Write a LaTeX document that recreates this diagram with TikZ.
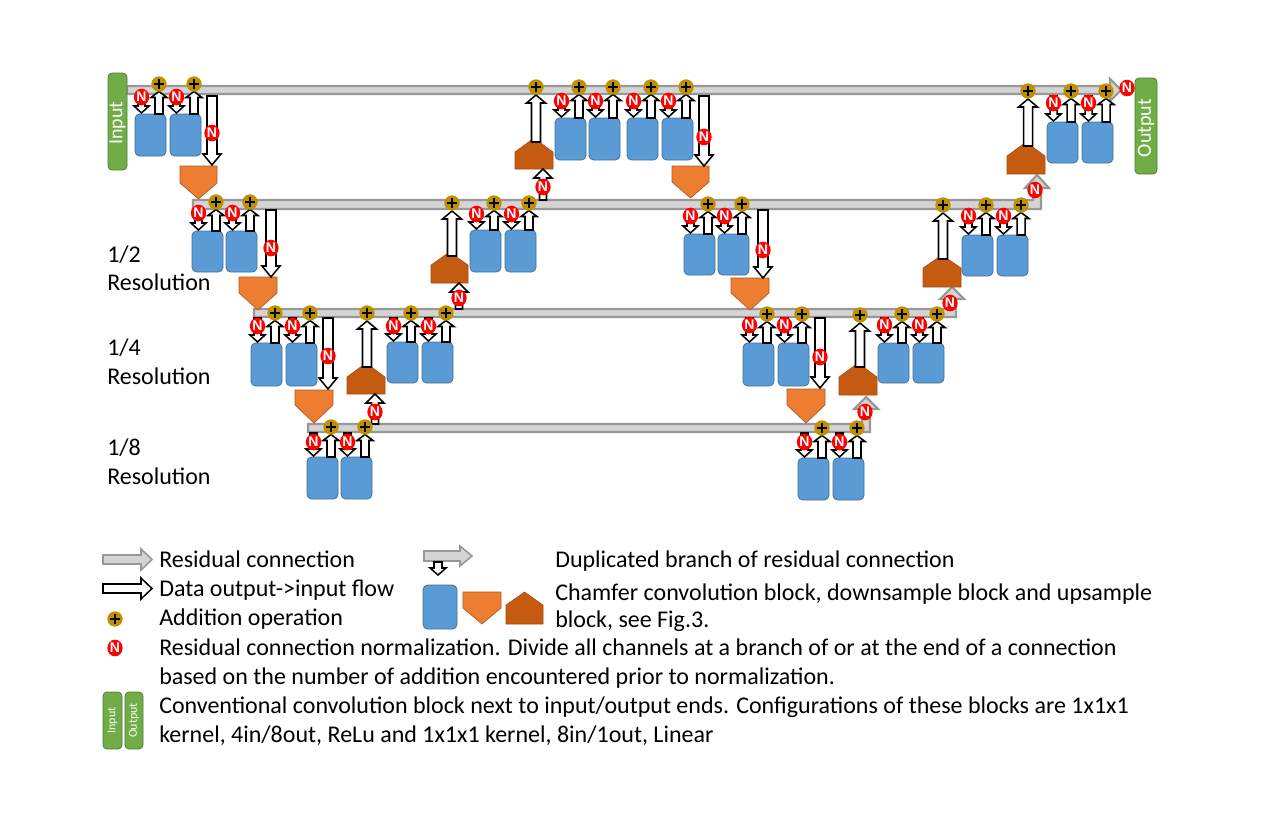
\documentclass[tikz,border=0pt]{standalone}
\usepackage{fontspec}
\setmainfont{Carlito}
\newfontfamily\nfont{Liberation Sans}
\usetikzlibrary{shapes.geometric}
\definecolor{cblue}{HTML}{5B9BD5}
\definecolor{cblueb}{HTML}{41719C}
\definecolor{corange}{HTML}{ED7D31}
\definecolor{corangeb}{HTML}{AE5A21}
\definecolor{cup}{HTML}{C55A11}
\definecolor{cgreen}{HTML}{70AD47}
\definecolor{cgreenb}{HTML}{507E32}
\definecolor{cgold}{HTML}{BF9000}
\definecolor{cbarfill}{HTML}{D4D4D4}
\definecolor{cbardraw}{HTML}{989898}
\tikzset{
 chblock/.style={fill=cblue,draw=cblueb,line width=0.6pt,rounded corners=3.5pt},
 downblk/.style={fill=corange,draw=corangeb,line width=0.5pt,line join=miter},
 upblk/.style={fill=cup,draw=cup!85!black,line width=0.4pt,line join=miter},
 flowarrow/.style={fill=white,draw=black,line width=1.15pt,line join=miter},
 resbar/.style={fill=cbarfill,draw=cbardraw,line width=1.6pt,line join=miter},
 convblk/.style={fill=cgreen,draw=cgreenb,line width=0.6pt,rounded corners=3pt},
 addop/.style={circle,fill=cgold,inner sep=0pt,minimum size=11.5pt,
   path picture={\draw[line width=1.4pt,black]
     ([xshift=-3.6pt]path picture bounding box.center) -- ([xshift=3.6pt]path picture bounding box.center)
     ([yshift=-3.6pt]path picture bounding box.center) -- ([yshift=3.6pt]path picture bounding box.center);}},
 normop/.style={ellipse,fill=red,inner sep=0pt,minimum width=11.5pt,minimum height=12.5pt,text=white,font=\nfont\fontsize{10.5}{10.5}\selectfont\bfseries},
 lbl/.style={anchor=base west,inner sep=0pt,font=\fontsize{18}{21.6}\selectfont},
}
% vertical block arrows: x, tail y, tip y, shaft half, head half, head length
\newcommand\uparr[6]{\draw[flowarrow] ({#1-#4},#2) -- ({#1-#4},{#3+#6}) -- ({#1-#5},{#3+#6}) -- (#1,#3) -- ({#1+#5},{#3+#6}) -- ({#1+#4},{#3+#6}) -- ({#1+#4},#2) -- cycle;}
\newcommand\dnarr[6]{\draw[flowarrow] ({#1-#4},#2) -- ({#1-#4},{#3-#6}) -- ({#1-#5},{#3-#6}) -- (#1,#3) -- ({#1+#5},{#3-#6}) -- ({#1+#4},{#3-#6}) -- ({#1+#4},#2) -- cycle;}
% chamfer block with its N-down arrow and up arrow to addition: name, xleft, ytop, ybot, barbottom, plus y, N y
\newcommand\cb[7]{%
 \draw[chblock] (#2,#3) rectangle ({#2+31},#4);
 \dnarr{#2+6.5}{#5}{#3-1}{3.5}{7.5}{7}
 \uparr{#2+24}{#3}{#6+7.5}{4}{8}{6}
 \node[addop] (#1p) at ({#2+24},#6) {};
 \node[normop] (#1n) at ({#2+6.5},#7) {N};}
% downsample: x1, x2, top, shoulder, tip
\newcommand\dsb[5]{\draw[downblk] (#1,#3) -- (#2,#3) -- (#2,#4) -- ({(#1+#2)/2},#5) -- (#1,#4) -- cycle;}
% upsample: x1, x2, peak, shoulder, bottom
\newcommand\usb[5]{\draw[upblk] (#1,#5) -- (#1,#4) -- ({(#1+#2)/2},#3) -- (#2,#4) -- (#2,#5) -- cycle;}
\begin{document}
\begin{tikzpicture}[x=0.75pt,y=-0.75pt]
\useasboundingbox (0,0) rectangle (1280,832);
% residual bars
\draw[resbar] (127,86) -- (1110,86) -- (1110,79) -- (1121,90) -- (1110,101) -- (1110,94) -- (127,94) -- cycle;
\draw[resbar] (193,200) -- (1033,200) -- (1033,188) -- (1025,188) -- (1037,175) -- (1049,188) -- (1041,188) -- (1041,209) -- (193,209) -- cycle;
\draw[resbar] (254,309) -- (948,309) -- (948,299) -- (940,299) -- (952,287) -- (964,299) -- (956,299) -- (956,317) -- (254,317) -- cycle;
\draw[resbar] (308,424) -- (862,424) -- (862,409) -- (854,409) -- (866,397) -- (878,409) -- (870,409) -- (870,432) -- (308,432) -- cycle;
% input / output blocks
\draw[convblk] (108,73) rectangle (127,170);
\node[rotate=90,text=white,font=\fontsize{15}{15}\selectfont,inner sep=0pt] (inp) at (117.5,123) {Input};
\draw[convblk] (1135,78) rectangle (1157,174);
\node[rotate=90,text=white,font=\fontsize{15}{15}\selectfont,inner sep=0pt] (outp) at (1146,128) {Output};
% downsample and upsample blocks
\dsb{180}{217}{166}{183}{199}
\dsb{672}{709}{166}{182}{198}
\dsb{239}{277}{277}{293}{310}
\dsb{731}{769}{278}{293}{310}
\dsb{295}{333}{390}{405}{423}
\dsb{787}{825}{389}{405}{423}
\usb{515}{553}{138}{152}{169}
\usb{1007}{1045}{142}{156}{174}
\usb{431}{468}{252}{265}{283}
\usb{923}{961}{255}{268}{287}
\usb{347}{385}{363}{377}{394}
\usb{839}{877}{363}{377}{395}
% long down arrows to downsample blocks
\dnarr{212}{96}{165}{5}{9}{11}
\dnarr{704}{96}{166}{5}{9}{11}
\dnarr{271}{210}{277}{5}{9}{11}
\dnarr{763}{210}{278}{5}{9}{11}
\dnarr{328}{318}{389}{5}{9}{11}
\dnarr{820}{318}{388}{5}{9}{11}
\node[normop] (ld1) at (212,133) {N};
\node[normop] (ld2) at (704,137) {N};
\node[normop] (ld3) at (271,248) {N};
\node[normop] (ld4) at (763,250) {N};
\node[normop] (ld5) at (328,356) {N};
\node[normop] (ld6) at (820,357) {N};
% up arrows from upsample blocks to additions
\uparr{536}{142}{95}{4.5}{9.5}{8}
\uparr{1028}{146}{99}{4.5}{9.5}{8}
\uparr{452}{256}{211}{4.5}{9.5}{8}
\uparr{943}{259}{213}{4.5}{9.5}{8}
\uparr{367}{367}{321}{4.5}{9.5}{8}
\uparr{860}{367}{323}{4.5}{9.5}{8}
\node[addop] (ua1) at (536,87) {};
\node[addop] (ua2) at (1028,91) {};
\node[addop] (ua3) at (452,203) {};
\node[addop] (ua4) at (943,205) {};
\node[addop] (ua5) at (367,313) {};
\node[addop] (ua6) at (860,315) {};
% branch arrows into upsample blocks
\uparr{543}{200}{169}{3.5}{9}{9}
\uparr{459}{309}{283}{3.5}{9}{9}
\uparr{375}{424}{394}{3.5}{9}{9}
\node[normop] (bn1) at (543,187) {N};
\node[normop] (bn2) at (459,298) {N};
\node[normop] (bn3) at (375,412) {N};
% normalizations on residual ends
\node[normop] (rn0) at (1127,88) {N};
\node[normop] (rn1) at (1035,190) {N};
\node[normop] (rn2) at (950,303) {N};
\node[normop] (rn3) at (865,412) {N};
% chamfer blocks
\cb{a1}{135}{114}{156}{96}{84}{97}
\cb{a2}{170}{114}{156}{96}{84}{97}
\cb{b1}{555}{118}{160}{96}{87}{101}
\cb{b2}{589}{118}{160}{96}{87}{101}
\cb{b3}{627}{118}{160}{96}{87}{101}
\cb{b4}{662}{118}{160}{96}{87}{101}
\cb{c1}{1047}{122}{163}{96}{91}{103}
\cb{c2}{1082}{122}{163}{96}{91}{103}
\cb{d1}{192}{231}{272}{210}{202}{213}
\cb{d2}{226}{231}{272}{210}{202}{213}
\cb{e1}{470}{230}{272}{210}{203}{214}
\cb{e2}{505}{230}{272}{210}{203}{214}
\cb{f1}{684}{234}{275}{210}{204}{216}
\cb{f2}{718}{234}{275}{210}{204}{216}
\cb{g1}{962}{235}{276}{210}{205}{216}
\cb{g2}{997}{235}{276}{210}{205}{216}
\cb{h1}{251}{343}{386}{318}{313}{326}
\cb{h2}{286}{343}{386}{318}{313}{326}
\cb{i1}{387}{342}{383}{318}{313}{326}
\cb{i2}{422}{342}{383}{318}{313}{326}
\cb{j1}{743}{343}{386}{318}{314}{325}
\cb{j2}{778}{343}{386}{318}{314}{325}
\cb{k1}{878}{343}{383}{318}{314}{325}
\cb{k2}{913}{343}{383}{318}{314}{325}
\cb{l1}{307}{457}{499}{433}{427}{442}
\cb{l2}{341}{457}{499}{433}{427}{442}
\cb{m1}{798}{458}{500}{433}{428}{442}
\cb{m2}{833}{458}{500}{433}{428}{442}
% level labels
\node[lbl] (r2a) at (107,262) {1/2};
\node[lbl] (r2b) at (107,290) {Resolution};
\node[lbl] (r4a) at (107,355) {1/4};
\node[lbl] (r4b) at (107,384) {Resolution};
\node[lbl] (r8a) at (107,455) {1/8};
\node[lbl] (r8b) at (107,484) {Resolution};
% legend
\draw[resbar,line width=1.2pt] (103,555) -- (141,555) -- (141,549) -- (152,559.5) -- (141,570) -- (141,564) -- (103,564) -- cycle;
\draw[flowarrow] (103,584) -- (141,584) -- (141,578) -- (152,588.5) -- (141,599) -- (141,593) -- (103,593) -- cycle;
\node[addop] (lga) at (115,619) {};
\node[normop] (lgn) at (115,648) {N};
\draw[convblk] (103,692) rectangle (122,749);
\node[rotate=90,text=white,font=\fontsize{9}{9}\selectfont,inner sep=0pt] (lgi) at (112.5,720.5) {Input};
\draw[convblk] (125,692) rectangle (143,749);
\node[rotate=90,text=white,font=\fontsize{9}{9}\selectfont,inner sep=0pt] (lgo) at (134,720.5) {Output};
\draw[resbar,line width=1.2pt] (424,551) -- (460,551) -- (460,546) -- (472,556) -- (460,566) -- (460,561) -- (424,561) -- cycle;
\dnarr{438}{562}{575}{4}{8}{7}
\draw[chblock] (423,585) rectangle (457,629);
\dsb{463}{501}{592}{608}{624}
\usb{506}{543}{592}{605}{624}
\node[lbl] (t1) at (159,567) {Residual connection};
\node[lbl] (t2) at (159,596) {Data output->input flow};
\node[lbl] (t3) at (159,625) {Addition operation};
\node[lbl] (t4) at (159,655) {Residual connection normalization. Divide all channels at a branch of or at the end of a connection};
\node[lbl] (t5) at (159,684) {based on the number of addition encountered prior to normalization.};
\node[lbl] (t6) at (159,713) {Conventional convolution block next to input/output ends. Configurations of these blocks are 1x1x1};
\node[lbl] (t7) at (159,742) {kernel, 4in/8out, ReLu and 1x1x1 kernel, 8in/1out, Linear};
\node[lbl] (t8) at (555,567) {Duplicated branch of residual connection};
\node[lbl] (t9) at (555,600) {Chamfer convolution block, downsample block and upsample};
\node[lbl] (t10) at (555,627) {block, see Fig.3.};
\end{tikzpicture}
\end{document}
